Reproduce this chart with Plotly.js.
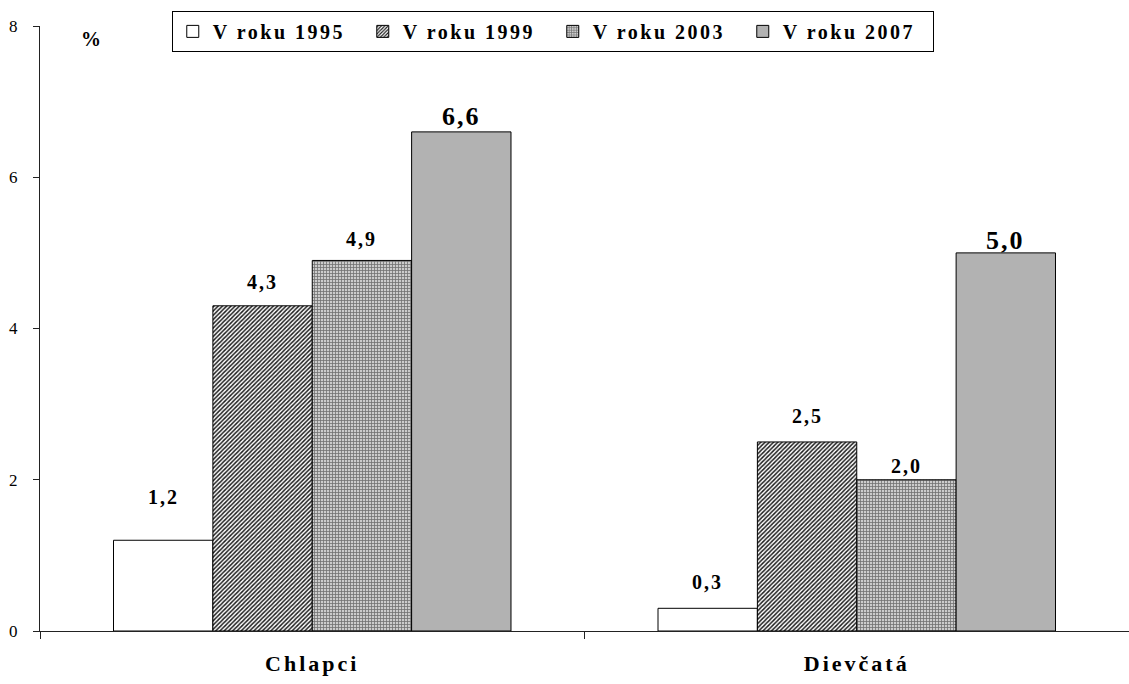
<!DOCTYPE html>
<html>
<head>
<meta charset="utf-8">
<script src="https://cdn.plot.ly/plotly-3.0.1.min.js"></script>
<style>
html,body{margin:0;padding:0;background:#fff;}
#chart{width:1129px;height:684px;}
.xtick text{letter-spacing:3px;}
.annotation-text{letter-spacing:2px;}
.legendtext{letter-spacing:2.5px;}
</style>
</head>
<body>
<div id="chart"></div>
<script>
const categories = ["Chlapci", "Dievčatá"];
const seriesNames = ["V roku 1995", "V roku 1999", "V roku 2003", "V roku 2007"];
const values1995 = [1.2, 0.3];
const values1999 = [4.3, 2.5];
const values2003 = [4.9, 2.0];
const values2007 = [6.6, 5.0];
const yTicks = [0, 2, 4, 6, 8];

// styling
const FONT = "'Liberation Serif', 'Times New Roman', Times, serif";
const allValues = [values1995, values1999, values2003, values2007];
const markers = [
  {color: "#ffffff", line: {color: "#000", width: 1}},
  {color: "#ffffff", line: {color: "#000", width: 1},
   pattern: {shape: "/", fgcolor: "#1a1a1a", bgcolor: "#ffffff", size: 3, solidity: 0.48}},
  {color: "#ffffff", line: {color: "#000", width: 1},
   pattern: {shape: "+", fgcolor: "#707070", bgcolor: "#cccccc", size: 3, solidity: 0.45}},
  {color: "#b2b2b2", line: {color: "#000", width: 1}}
];
const labelShift = [[43, 26], [24, 26], [21, 14], [15, 12]];
const labelSize = [20, 20, 20, 26];

const traces = allValues.map((vals, i) => ({
  type: "bar",
  name: seriesNames[i],
  x: categories,
  y: vals,
  marker: markers[i],
  hoverinfo: "skip"
}));

const W = 1129, H = 684;
const margin = {l: 40, r: 0, t: 26, b: 53};
const bargap = 0.27;
const plotW = W - margin.l - margin.r;
const catW = plotW / categories.length;
const barW = catW * (1 - bargap) / allValues.length;

const fmt = v => v.toFixed(1).replace(".", ",");
const annotations = [];
allValues.forEach((vals, i) => {
  vals.forEach((v, j) => {
    annotations.push({
      x: categories[j], y: v, xref: "x", yref: "y",
      text: fmt(v), showarrow: false,
      xshift: (i - (allValues.length - 1) / 2) * barW,
      yshift: labelShift[i][j], xanchor: "center", yanchor: "middle",
      font: {family: FONT, size: labelSize[i], color: "#000", weight: "bold"}
    });
  });
});
annotations.push({
  x: 0.048, y: 0.978, xref: "paper", yref: "paper", text: "%", showarrow: false,
  xanchor: "center", yanchor: "middle",
  font: {family: FONT, size: 20, color: "#000", weight: "bold"}
});

const layout = {
  width: W, height: H,
  margin: margin,
  paper_bgcolor: "#fff", plot_bgcolor: "#fff",
  barmode: "group", bargap: bargap, bargroupgap: 0,
  showlegend: true,
  legend: {
    orientation: "h", x: 0.121, y: 1.025, xanchor: "left", yanchor: "top",
    bordercolor: "#000", borderwidth: 1, bgcolor: "#fff",
    font: {family: FONT, size: 20, color: "#000", weight: "bold"},
    traceorder: "normal", itemwidth: 30, entrywidth: 145, entrywidthmode: "pixels"
  },
  xaxis: {
    type: "category", showline: true, linecolor: "#222", linewidth: 1,
    ticks: "outside", tickson: "boundaries", ticklen: 7, tickcolor: "#222",
    showgrid: false, zeroline: false,
    ticklabelstandoff: 13,
    tickfont: {family: FONT, size: 22, color: "#000", weight: "bold"}
  },
  yaxis: {
    range: [0, 8], tickvals: yTicks, ticktext: yTicks.map(String),
    showline: true, linecolor: "#222", linewidth: 1,
    ticks: "outside", ticklen: 6, tickcolor: "#222",
    showgrid: false, zeroline: false,
    ticklabelstandoff: 12,
    tickfont: {family: FONT, size: 17, color: "#000"}
  },
  annotations: annotations
};

Plotly.newPlot("chart", traces, layout, {displayModeBar: false, staticPlot: true});
</script>
</body>
</html>
